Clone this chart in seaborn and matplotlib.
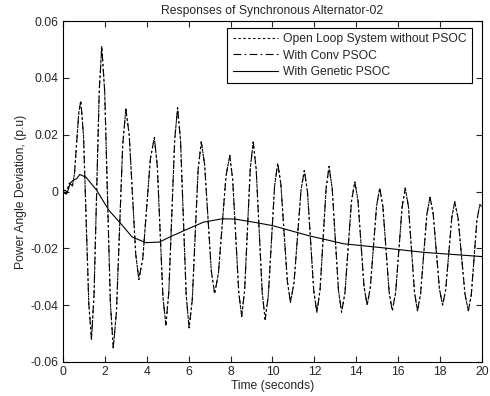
import pandas as pd
import matplotlib
matplotlib.use("Agg")
import matplotlib.pyplot as plt
import seaborn as sns

# values (time in s, deviation in p.u)
# open loop: peaks, troughs and the shoulders between them
openTime = [0, 0.15, 0.3, 0.45,
            0.55, 0.75, 0.85, 0.98, 1.23, 1.36, 1.48, 1.73, 1.85, 1.99, 2.26, 2.4,
            2.55, 2.85, 3.0, 3.16, 3.47, 3.62, 3.81, 4.17, 4.36, 4.50, 4.77, 4.91,
            5.05, 5.33, 5.47, 5.61, 5.88, 6.02, 6.17, 6.45, 6.6, 6.76, 7.08, 7.24,
            7.42, 7.78, 7.96, 8.10, 8.39, 8.53, 8.67, 8.94, 9.08, 9.22, 9.51, 9.65,
            9.80, 10.10, 10.25, 10.40, 10.71, 10.86, 11.03, 11.36, 11.52, 11.67, 11.97, 12.12,
            12.27, 12.56, 12.7, 12.85, 13.15, 13.3, 13.46, 13.77, 13.93, 14.08, 14.37, 14.52,
            14.67, 14.97, 15.12, 15.27, 15.57, 15.72, 15.88, 16.19, 16.34, 16.49, 16.78, 16.92,
            17.07, 17.37, 17.52, 17.67, 17.97, 18.12, 18.27, 18.56, 18.7, 18.86, 19.19, 19.35,
            19.49, 19.76, 19.9, 20]
openDev = [0, -0.001, 0.003, 0.002,
           0.0065, 0.0275, 0.032, 0.0194, -0.0394, -0.052, -0.0365, 0.0356, 0.051, 0.0351, -0.0391, -0.055,
           -0.0424, 0.0164, 0.029, 0.020, -0.022, -0.031, -0.0235, 0.0115, 0.019, 0.0091, -0.0371, -0.047,
           -0.0355, 0.018, 0.0295, 0.0179, -0.0364, -0.048, -0.0382, 0.0077, 0.0175, 0.0095, -0.028, -0.036,
           -0.0287, 0.0054, 0.0127, 0.0042, -0.0355, -0.044, -0.0348, 0.0082, 0.0174, 0.008, -0.0356, -0.045,
           -0.0367, 0.0018, 0.010, 0.0026, -0.0317, -0.039, -0.032, 0.0004, 0.0074, -0.0001, -0.035, -0.0425,
           -0.0348, 0.0011, 0.0088, 0.0011, -0.0348, -0.0425, -0.0356, -0.0035, 0.0034, -0.0031, -0.0335, -0.040,
           -0.0338, -0.005, 0.0012, -0.0053, -0.0355, -0.042, -0.0355, -0.0053, 0.0012, -0.0053, -0.0355, -0.042,
           -0.036, -0.008, -0.002, -0.0077, -0.0343, -0.040, -0.0345, -0.0091, -0.0036, -0.0094, -0.0362, -0.042,
           -0.0364, -0.0101, -0.0045, -0.0055]
# conv PSOC sits on top of the open loop curve
convTime = openTime
convDev = openDev
genTime = [0, 0.1, 0.2, 0.35, 0.5, 0.65, 0.8, 1.1, 1.6, 2.2, 2.7, 3.3, 3.95, 4.6, 5.1,
           5.8, 6.7, 7.6, 8.2, 9.1, 10.0, 11.7, 13.4, 15.0, 17.2, 20]
genDev = [0, 0.0005, -0.0005, 0.003, 0.004, 0.0045, 0.006, 0.005, 0.0005, -0.0067,
          -0.0108, -0.016, -0.018, -0.0178, -0.016, -0.0137, -0.0108, -0.0096, -0.0097,
          -0.0108, -0.012, -0.0155, -0.0184, -0.0196, -0.0214, -0.0229]
seriesNames = ["Open Loop System without PSOC", "With Conv PSOC", "With Genetic PSOC"]
xTicks = list(range(0, 21, 2))
yTicks = [-0.06, -0.04, -0.02, 0, 0.02, 0.04, 0.06]

sns.set_style("ticks")
plt.rcParams["font.family"] = ["Liberation Sans", "DejaVu Sans"]
fs = 8.7
plt.rcParams["font.size"] = fs

fig = plt.figure(figsize=(4.9, 3.96), dpi=100)
ax = fig.add_axes([0.1286, 0.0859, 0.855, 0.861])

sns.lineplot(x=openTime, y=openDev, ax=ax, color="black", lw=0.8,
             linestyle=(0, (2.2, 2.2)), label=seriesNames[0])
sns.lineplot(x=convTime, y=convDev, ax=ax, color="black", lw=0.8,
             linestyle=(0, (7, 3, 1.5, 3)), label=seriesNames[1])
sns.lineplot(x=genTime, y=genDev, ax=ax, color="black", lw=0.8,
             linestyle="-", label=seriesNames[2])

ax.set_xlim(0, 20)
ax.set_ylim(-0.06, 0.06)
ax.set_xticks(xTicks)
ax.set_xticklabels([str(t) for t in xTicks])
ax.set_yticks(yTicks)
ax.set_yticklabels(["-0.06", "-0.04", "-0.02", "0", "0.02", "0.04", "0.06"])
ax.tick_params(direction="in", top=True, right=True, length=4, width=0.8,
               labelsize=fs, pad=3)
for s in ax.spines.values():
    s.set_linewidth(0.8)
    s.set_color("black")
ax.set_title("Responses of Synchronous Alternator-02", fontsize=fs, pad=5)
ax.set_xlabel("Time (seconds)", fontsize=fs, labelpad=1)
ax.set_ylabel("Power Angle Deviation, (p.u)", fontsize=fs, labelpad=3)

leg = ax.legend(loc="upper right", bbox_to_anchor=(0.977, 0.98), borderaxespad=0,
                fontsize=fs, handlelength=3.8, handletextpad=0.4, labelspacing=0.35,
                fancybox=False, framealpha=1, edgecolor="black", borderpad=0.45)
leg.get_frame().set_linewidth(0.8)

fig.savefig("out.png", dpi=100)
